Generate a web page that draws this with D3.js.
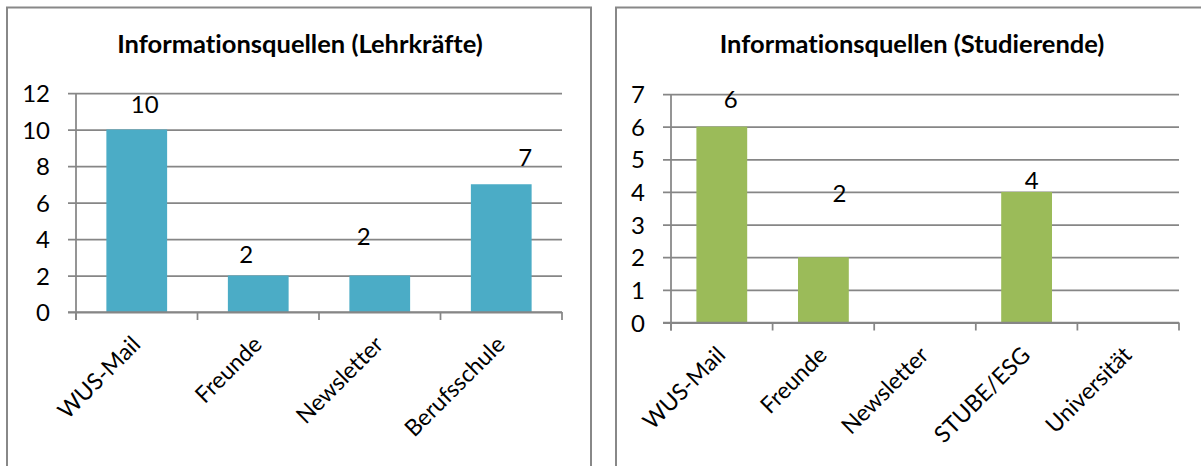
<!DOCTYPE html>
<html>
<head>
<meta charset="utf-8">
<script src="https://cdn.jsdelivr.net/npm/d3@7/dist/d3.min.js"></script>
<style>
  html, body { margin: 0; padding: 0; background: #ffffff; }
  svg { display: block; }
  text { font-family: Lato, "Open Sans", sans-serif; fill: #000; font-variant-ligatures: none; }
</style>
</head>
<body>
<svg id="chart" width="1201" height="466"></svg>
<script>
// ---- data ----
const leftTitle = "Informationsquellen (Lehrkräfte)";
const leftCategories = ["WUS-Mail", "Freunde", "Newsletter", "Berufsschule"];
const leftValues = [10, 2, 2, 7];
const leftTicks = [0, 2, 4, 6, 8, 10, 12];

const rightTitle = "Informationsquellen (Studierende)";
const rightCategories = ["WUS-Mail", "Freunde", "Newsletter", "STUBE/ESG", "Universität"];
const rightValues = [6, 2, 0, 4, 0];
const rightTicks = [0, 1, 2, 3, 4, 5, 6, 7];

// ---- layout (positions / styles) ----
const layouts = [
  {
    title: leftTitle, categories: leftCategories, values: leftValues, ticks: leftTicks,
    color: "#4BACC6",
    frame: { x: 7, y: 7.5, w: 584, h: 480 },
    titleX: 300, titleY: 53,
    xRange: [76, 562], yRange: [312, 93],
    // manual label nudges [dx, dy above bar top] as in the original
    labelNudge: [[8, 25], [-12, 21], [-16, 39], [24, 27]]
  },
  {
    title: rightTitle, categories: rightCategories, values: rightValues, ticks: rightTicks,
    color: "#9BBB59",
    frame: { x: 616, y: 7.5, w: 600, h: 480 },
    titleX: 912, titleY: 53,
    xRange: [671, 1179], yRange: [322.5, 94],
    labelNudge: [[9, 27], [16, 64], [0, 0], [5, 12], [0, 0]]
  }
];

const svg = d3.select("#chart");
const gridColor = "#868686";

layouts.forEach(L => {
  const g = svg.append("g");

  // frame
  g.append("rect")
    .attr("x", L.frame.x).attr("y", L.frame.y)
    .attr("width", L.frame.w).attr("height", L.frame.h)
    .attr("fill", "#fff").attr("stroke", "#888").attr("stroke-width", 2);

  // title
  g.append("text")
    .attr("x", L.titleX).attr("y", L.titleY)
    .attr("text-anchor", "middle")
    .attr("font-weight", "bold")
    .attr("font-size", 25.5)
    .text(L.title);

  const x = d3.scaleBand().domain(L.categories).range(L.xRange).paddingInner(0.5).paddingOuter(0.25);
  const yMax = L.ticks[L.ticks.length - 1];
  const y = d3.scaleLinear().domain([0, yMax]).range(L.yRange);
  const x0 = L.xRange[0], x1 = L.xRange[1];

  // gridlines + y axis
  const yAxis = d3.axisLeft(y).tickValues(L.ticks).tickFormat(d3.format("d"))
    .tickSize(-(x1 - x0)).tickSizeOuter(0).tickPadding(26);
  const ya = g.append("g").attr("transform", `translate(${x0},0)`).call(yAxis);
  ya.select(".domain").remove();
  ya.selectAll(".tick line")
    .attr("x1", -8).attr("x2", x1 - x0)
    .attr("stroke", gridColor).attr("stroke-width", 1.75);
  ya.selectAll(".tick text")
    .attr("font-size", 24).attr("font-family", "Lato, sans-serif").attr("fill", "#000")
    .attr("dy", "0.36em");

  // vertical axis line
  g.append("line")
    .attr("x1", x0).attr("x2", x0)
    .attr("y1", y(yMax)).attr("y2", y(0) + 8)
    .attr("stroke", gridColor).attr("stroke-width", 1.75);

  const rows = L.categories.map((c, i) => ({ c, v: L.values[i], n: L.labelNudge[i] }));

  // bars
  g.selectAll("rect.bar").data(rows).enter().append("rect")
    .attr("class", "bar")
    .attr("x", d => x(d.c))
    .attr("width", x.bandwidth())
    .attr("y", d => y(d.v))
    .attr("height", d => y(0) - y(d.v))
    .attr("fill", L.color);

  // x axis baseline + ticks at band boundaries
  g.append("line")
    .attr("x1", x0 - 8).attr("x2", x1)
    .attr("y1", y(0)).attr("y2", y(0))
    .attr("stroke", gridColor).attr("stroke-width", 1.75);
  const step = x.step();
  const boundaries = d3.range(L.categories.length + 1).map(i => x0 + i * step);
  g.selectAll("line.xt").data(boundaries).enter().append("line")
    .attr("x1", d => d).attr("x2", d => d)
    .attr("y1", y(0)).attr("y2", y(0) + 8)
    .attr("stroke", gridColor).attr("stroke-width", 1.75);

  // category labels, rotated -45
  g.selectAll("text.cat").data(L.categories).enter().append("text")
    .attr("class", "cat")
    .attr("font-size", 23)
    .attr("text-anchor", "end")
    .attr("transform", d => `translate(${x(d) + x.bandwidth() / 2 + 5},${y(0) + 34}) rotate(-45)`)
    .text(d => d);

  // data labels (zero values are not labelled)
  g.selectAll("text.val").data(rows.filter(d => d.v > 0)).enter().append("text")
    .attr("class", "val")
    .attr("font-size", 24)
    .attr("text-anchor", "middle")
    .attr("dy", "0.36em")
    .attr("x", d => x(d.c) + x.bandwidth() / 2 + d.n[0])
    .attr("y", d => y(d.v) - d.n[1])
    .text(d => d.v);
});
</script>
</body>
</html>
